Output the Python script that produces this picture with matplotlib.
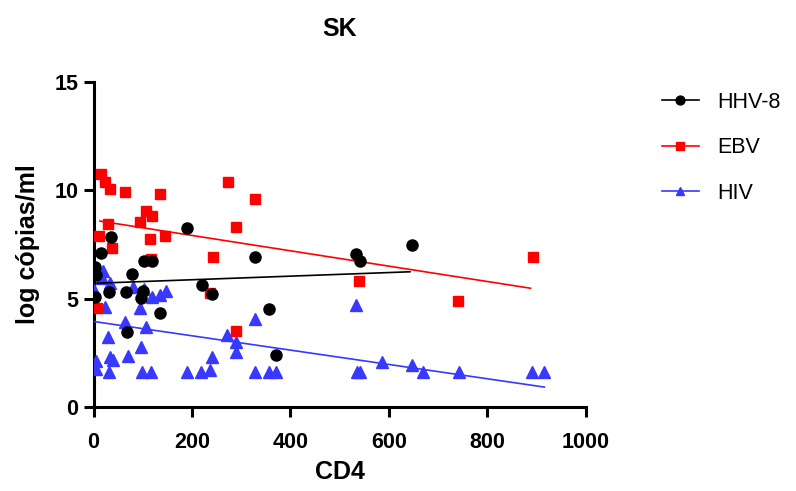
import numpy as np
import matplotlib
matplotlib.use("Agg")
import matplotlib.pyplot as plt

plt.rcParams['font.family'] = ['Liberation Sans', 'DejaVu Sans']

# HHV-8 (black circles)
hhv8_cd4 = [190, 36, 16, 2.4, 5, 102, 118, 79, 221, 4, 31.5, 65.5, 100, 97.5,
            136, 68, 241, 329, 356, 370, 533, 542, 648]
hhv8_log = [8.25, 7.86, 7.13, 6.47, 6.07, 6.75, 6.75, 6.14, 5.61, 5.08, 5.31, 5.31,
            5.35, 5.04, 4.32, 3.44, 5.21, 6.94, 4.54, 2.40, 7.06, 6.75, 7.46]

# EBV (red squares)
ebv_cd4 = [15.6, 23.5, 33.5, 65, 136, 106, 118, 95, 29, 11.5, 38.5, 114, 145.5,
           117, 6.5, 273, 329, 289, 242, 236, 290, 539, 892, 741]
ebv_log = [10.77, 10.37, 10.06, 9.9, 9.81, 9.04, 8.83, 8.52, 8.46, 7.9, 7.35, 7.75,
           7.88, 6.85, 4.58, 10.4, 9.61, 8.29, 6.94, 5.25, 3.52, 5.83, 6.94, 4.9]

# HIV (blue triangles)
hiv_cd4 = [20, 18, 34.5, 0, 80, 102, 118, 136, 147, 24, 94, 64.5, 106, 28.5, 97.5,
           33.5, 39, 69.5, 5, 5, 31.5, 99, 117.5, 190, 218, 236, 241, 272, 289, 290,
           329, 328, 356, 371, 533, 536, 542, 587, 648, 670, 742, 891, 916]
hiv_log = [6.3, 5.96, 5.71, 5.4, 5.52, 5.43, 5.09, 5.15, 5.34, 4.6, 4.57, 3.91, 3.69,
           3.23, 2.77, 2.31, 2.15, 2.34, 2.12, 1.75, 1.6, 1.6, 1.6, 1.6, 1.6, 1.7,
           2.32, 3.31, 3.0, 2.54, 4.05, 1.6, 1.6, 1.6, 4.72, 1.6, 1.6, 2.08, 1.92,
           1.6, 1.6, 1.6, 1.6]

# linear regression lines: (slope, intercept, x start, x end)
hhv8_fit = (0.00083, 5.707, 0, 643)
ebv_fit = (-0.003543, 8.627, 13, 888)
hiv_fit = (-0.003306, 3.948, 2.4, 916)

series = [
    ('HHV-8', hhv8_cd4, hhv8_log, hhv8_fit, 'black', 'o', 8, 5),
    ('EBV', ebv_cd4, ebv_log, ebv_fit, '#ff0000', 's', 7.5, 4),
    ('HIV', hiv_cd4, hiv_log, hiv_fit, '#3838ff', '^', 8, 3),
]

fig = plt.figure(figsize=(7.96, 4.91), dpi=100)
ax = fig.add_axes([93.5 / 796, 84 / 491, 492.2 / 796, 325 / 491])

for name, x, y, fit, col, mk, ms, z in series:
    ax.plot(x, y, linestyle='none', marker=mk, ms=ms, color=col, zorder=z)
    slope, icpt, x0, x1 = fit
    xx = np.array([x0, x1])
    ax.plot(xx, slope * xx + icpt, color=col, lw=1.2, zorder=z)
    # legend proxy
    ax.plot([], [], color=col, lw=1.2, marker=mk, ms=ms * 0.8, label=name)

ax.set_xlim(0, 1000)
ax.set_ylim(0, 15)
ax.set_xticks(range(0, 1001, 200))
ax.set_yticks([0, 5, 10, 15])
for s in ['top', 'right']:
    ax.spines[s].set_visible(False)
for s in ['left', 'bottom']:
    ax.spines[s].set_linewidth(2.2)
ax.tick_params(width=2.2, length=7, labelsize=15.5)
ax.tick_params(axis='x', pad=11)
ax.tick_params(axis='y', pad=4)
for lab in ax.get_xticklabels() + ax.get_yticklabels():
    lab.set_fontweight('bold')

ax.set_xlabel('CD4', fontsize=18, fontweight='bold', labelpad=5)
ax.set_ylabel('log cópias/ml', fontsize=18, fontweight='bold', labelpad=10)
ax.set_title('SK', fontsize=18, fontweight='bold', pad=33)

ax.legend(loc='upper left', bbox_to_anchor=(662 / 796, 1 - 92 / 491),
          bbox_transform=fig.transFigure, frameon=False, fontsize=15.5,
          handlelength=1.7, handletextpad=0.85, labelspacing=1.13,
          borderpad=0, borderaxespad=0)

fig.savefig('out.png', dpi=100)
